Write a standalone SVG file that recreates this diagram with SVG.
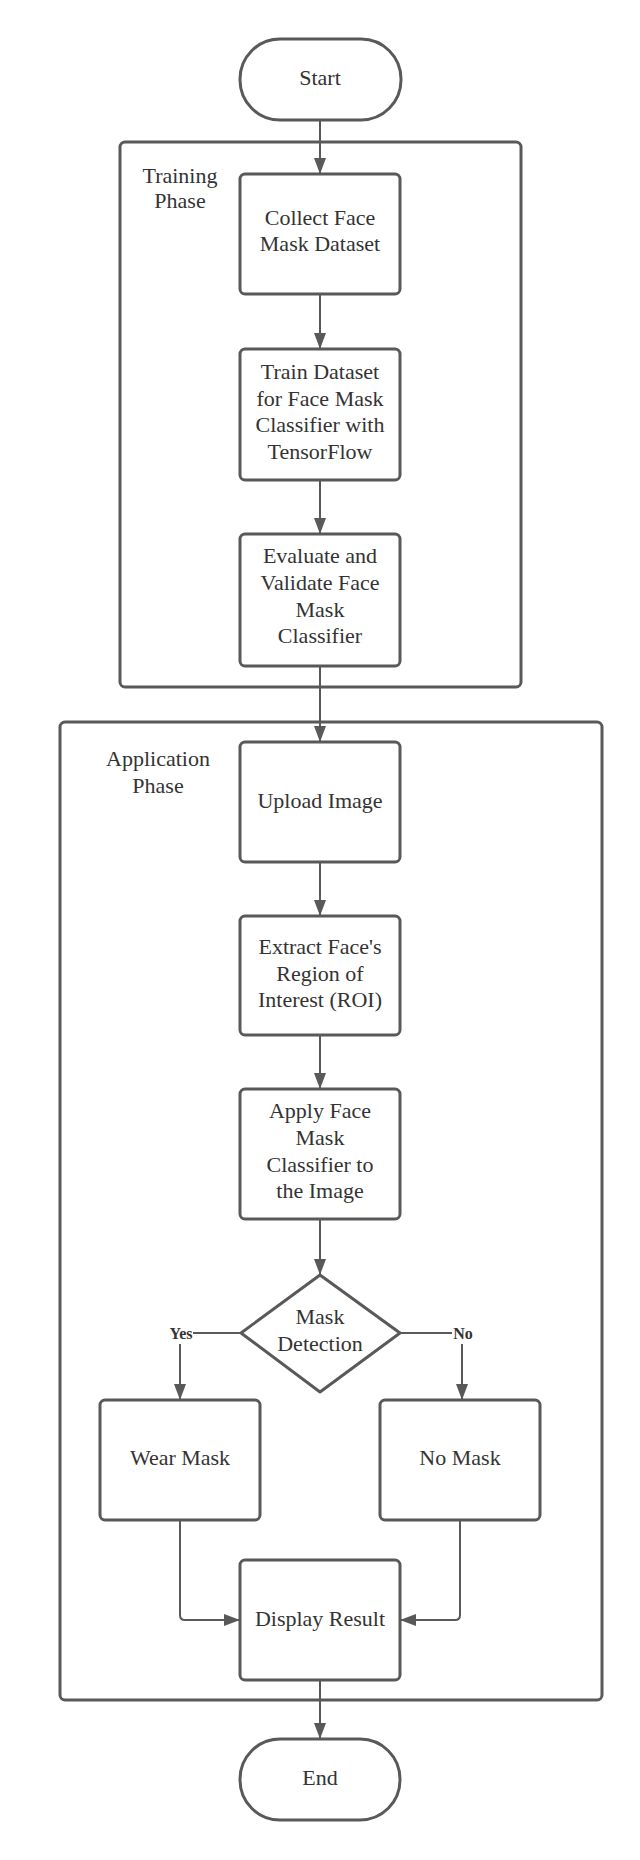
<svg xmlns="http://www.w3.org/2000/svg" width="640" height="1860" viewBox="0 0 640 1860">
<style>
.box{fill:#ffffff;stroke:#595959;stroke-width:3}
.cont{fill:none;stroke:#595959;stroke-width:3}
.ln{fill:none;stroke:#595959;stroke-width:2}
.t{font-family:"Liberation Serif","Times New Roman",serif;font-size:22px;fill:#333333;text-anchor:middle}
.lbl{font-family:"Liberation Serif","Times New Roman",serif;font-size:16px;font-weight:bold;fill:#333333;text-anchor:middle}
</style>
<defs>
<marker id="arr" viewBox="0 0 16 12" refX="16" refY="6" markerWidth="16" markerHeight="12" markerUnits="userSpaceOnUse" orient="auto">
<path d="M0,0 L16,6 L0,12 Z" fill="#595959"/>
</marker>
</defs>
<rect x="0" y="0" width="640" height="1860" fill="#ffffff"/>

<g id="training-phase">
<rect class="cont" x="120" y="142" width="401" height="545" rx="5"/>
<text class="t" x="180" y="183">Training</text>
<text class="t" x="180" y="208">Phase</text>
</g>
<g id="application-phase">
<rect class="cont" x="60" y="722" width="542" height="978" rx="5"/>
<text class="t" x="158" y="766">Application</text>
<text class="t" x="158" y="793">Phase</text>
</g>

<g id="connectors">
<line class="ln" x1="320" y1="120" x2="320" y2="174" marker-end="url(#arr)"/>
<line class="ln" x1="320" y1="294" x2="320" y2="349" marker-end="url(#arr)"/>
<line class="ln" x1="320" y1="480" x2="320" y2="534" marker-end="url(#arr)"/>
<line class="ln" x1="320" y1="666" x2="320" y2="742" marker-end="url(#arr)"/>
<line class="ln" x1="320" y1="862" x2="320" y2="916" marker-end="url(#arr)"/>
<line class="ln" x1="320" y1="1035" x2="320" y2="1089" marker-end="url(#arr)"/>
<line class="ln" x1="320" y1="1219" x2="320" y2="1275" marker-end="url(#arr)"/>
<path class="ln" d="M241,1333 H180 V1400" marker-end="url(#arr)"/>
<path class="ln" d="M399,1333 H462 V1400" marker-end="url(#arr)"/>
<path class="ln" d="M180,1520 V1615 Q180,1620 185,1620 H240" marker-end="url(#arr)"/>
<path class="ln" d="M460,1520 V1615 Q460,1620 455,1620 H400" marker-end="url(#arr)"/>
<line class="ln" x1="320" y1="1680" x2="320" y2="1739" marker-end="url(#arr)"/>
</g>

<g id="edge-labels">
<rect x="168" y="1324" width="25" height="20" fill="#ffffff"/>
<text class="lbl" x="181" y="1339">Yes</text>
<rect x="452" y="1324" width="22" height="20" fill="#ffffff"/>
<text class="lbl" x="463" y="1339">No</text>
</g>

<g id="start">
<rect class="box" x="240" y="39" width="161" height="81" rx="40"/>
<text class="t" x="320" y="85">Start</text>
</g>
<g id="collect">
<rect class="box" x="240" y="174" width="160" height="120" rx="5"/>
<text class="t" x="320" y="225">Collect Face</text>
<text class="t" x="320" y="251">Mask Dataset</text>
</g>
<g id="train">
<rect class="box" x="240" y="349" width="160" height="131" rx="5"/>
<text class="t" x="320" y="379">Train Dataset</text>
<text class="t" x="320" y="406">for Face Mask</text>
<text class="t" x="320" y="432">Classifier with</text>
<text class="t" x="320" y="459">TensorFlow</text>
</g>
<g id="evaluate">
<rect class="box" x="240" y="534" width="160" height="132" rx="5"/>
<text class="t" x="320" y="563">Evaluate and</text>
<text class="t" x="320" y="590">Validate Face</text>
<text class="t" x="320" y="617">Mask</text>
<text class="t" x="320" y="643">Classifier</text>
</g>
<g id="upload">
<rect class="box" x="240" y="742" width="160" height="120" rx="5"/>
<text class="t" x="320" y="808">Upload Image</text>
</g>
<g id="extract">
<rect class="box" x="240" y="916" width="160" height="119" rx="5"/>
<text class="t" x="320" y="954">Extract Face's</text>
<text class="t" x="320" y="981">Region of</text>
<text class="t" x="320" y="1007">Interest (ROI)</text>
</g>
<g id="apply">
<rect class="box" x="240" y="1089" width="160" height="130" rx="5"/>
<text class="t" x="320" y="1118">Apply Face</text>
<text class="t" x="320" y="1145">Mask</text>
<text class="t" x="320" y="1172">Classifier to</text>
<text class="t" x="320" y="1198">the Image</text>
</g>
<g id="decision">
<path class="box" stroke-linejoin="round" d="M320,1275 L400,1333 L320,1392 L241,1333 Z"/>
<text class="t" x="320" y="1324">Mask</text>
<text class="t" x="320" y="1351">Detection</text>
</g>
<g id="wear-mask">
<rect class="box" x="100" y="1400" width="160" height="120" rx="5"/>
<text class="t" x="180" y="1465">Wear Mask</text>
</g>
<g id="no-mask">
<rect class="box" x="380" y="1400" width="160" height="120" rx="5"/>
<text class="t" x="460" y="1465">No Mask</text>
</g>
<g id="display-result">
<rect class="box" x="240" y="1560" width="160" height="120" rx="5"/>
<text class="t" x="320" y="1626">Display Result</text>
</g>
<g id="end">
<rect class="box" x="240" y="1739" width="160" height="81" rx="40"/>
<text class="t" x="320" y="1785">End</text>
</g>
</svg>
